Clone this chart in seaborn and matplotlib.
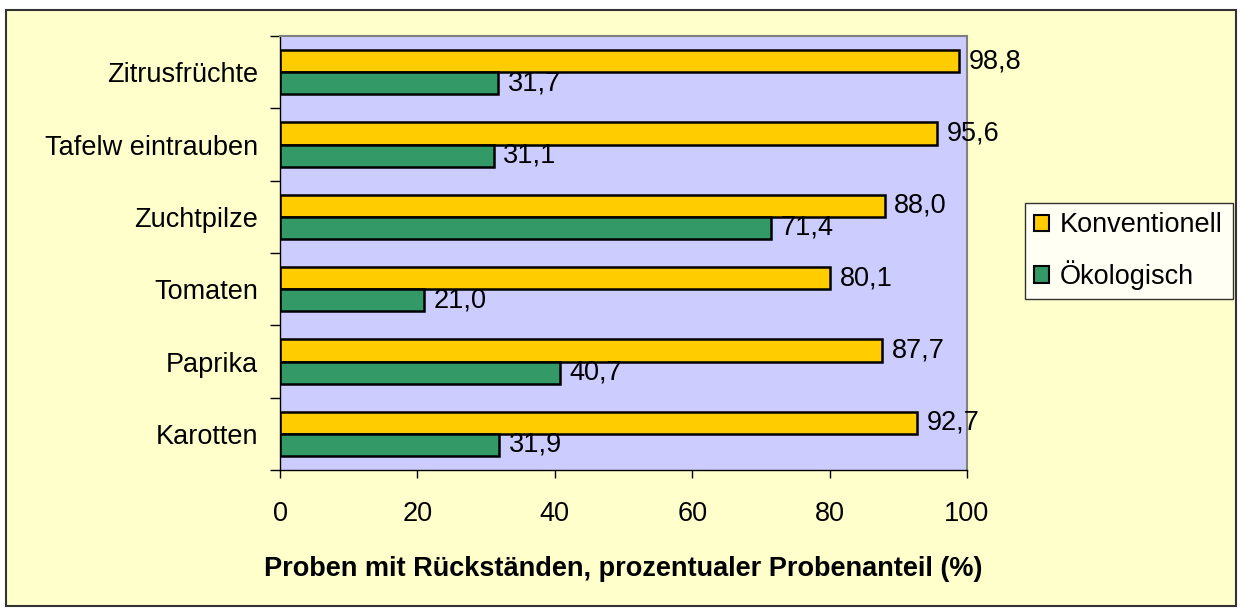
import matplotlib
matplotlib.use("Agg")
import matplotlib.pyplot as plt
import seaborn as sns
import pandas as pd
import numpy as np
from matplotlib.patches import Rectangle, Patch

categories = ["Zitrusfrüchte", "Tafelw eintrauben", "Zuchtpilze", "Tomaten", "Paprika", "Karotten"]
konventionell = [98.8, 95.6, 88.0, 80.1, 87.7, 92.7]
oekologisch = [31.7, 31.1, 71.4, 21.0, 40.7, 31.9]
series = ["Konventionell", "Ökologisch"]
xticks = [0, 20, 40, 60, 80, 100]

sns.set_theme(style="white")
plt.rcParams['font.family'] = ['Liberation Sans', 'DejaVu Sans']
plt.rcParams['text.color'] = 'black'
plt.rcParams['axes.labelcolor'] = 'black'
plt.rcParams['xtick.color'] = 'black'
plt.rcParams['ytick.color'] = 'black'

df = pd.DataFrame({
    "Kategorie": categories * 2,
    "Wert": konventionell + oekologisch,
    "Serie": [series[0]] * len(categories) + [series[1]] * len(categories),
})

W, H = 1244, 616
FS = 19.5
fig = plt.figure(figsize=(W / 100, H / 100), dpi=100)
fig.patch.set_facecolor("white")
fig.patches.append(Rectangle((6 / W, 1 - 606 / H), (1236 - 6) / W, (606 - 10) / H,
                             transform=fig.transFigure, facecolor="#FFFFCC",
                             edgecolor="#333333", linewidth=1.5, zorder=-10))

ax = fig.add_axes([280 / W, 1 - 470 / H, (967 - 280) / W, (470 - 36) / H])
ax.set_facecolor("#CCCCFF")

colors = {"Konventionell": "#FFCC00", "Ökologisch": "#339966"}
sns.barplot(data=df, y="Kategorie", x="Wert", hue="Serie", orient="h",
            palette=colors, width=0.61, ax=ax, edgecolor="black", linewidth=1.8,
            legend=False, errorbar=None, saturation=1)

for cont in ax.containers:
    labels = [f"{v:.1f}".replace(".", ",") for v in cont.datavalues]
    ax.bar_label(cont, labels=labels, padding=7, fontsize=FS, color="black")

ax.set_xlim(0, 100)
ax.set_ylim(len(categories) - 0.5, -0.5)
ax.set_xticks(xticks)
ax.set_xticklabels([str(t) for t in xticks], fontsize=FS)
ax.tick_params(axis="x", direction="out", length=6, width=1, color="black", pad=16, bottom=True)
ax.set_yticks(range(len(categories)))
ax.set_yticklabels(categories, fontsize=FS)
ax.tick_params(axis="y", which="major", length=0, pad=16)
ax.set_yticks(np.arange(-0.5, len(categories)), minor=True)
ax.tick_params(axis="y", which="minor", direction="out", length=7, width=1, color="black", left=True)
ax.set_ylabel("")
ax.set_xlabel("Proben mit Rückständen, prozentualer Probenanteil (%)",
              fontsize=FS, fontweight="bold", labelpad=21, color="black")

for s in ["left", "bottom"]:
    ax.spines[s].set_color("black")
    ax.spines[s].set_linewidth(1)
for s in ["top", "right"]:
    ax.spines[s].set_color("#808080")
    ax.spines[s].set_linewidth(1.5)

handles = [Patch(facecolor=colors[s], edgecolor="black", linewidth=1.5, label=s) for s in series]
leg = fig.legend(handles=handles, loc="upper left",
                 bbox_to_anchor=(1025 / W, 1 - 203 / H), frameon=True, fontsize=FS,
                 handlelength=0.55, handleheight=0.55, handletextpad=0.4,
                 labelspacing=0.8, borderpad=0.35, borderaxespad=0, fancybox=False)
leg.get_frame().set_edgecolor("black")
leg.get_frame().set_facecolor("white")
leg.get_frame().set_linewidth(1)

fig.savefig("out.png", dpi=100, facecolor=fig.get_facecolor())
